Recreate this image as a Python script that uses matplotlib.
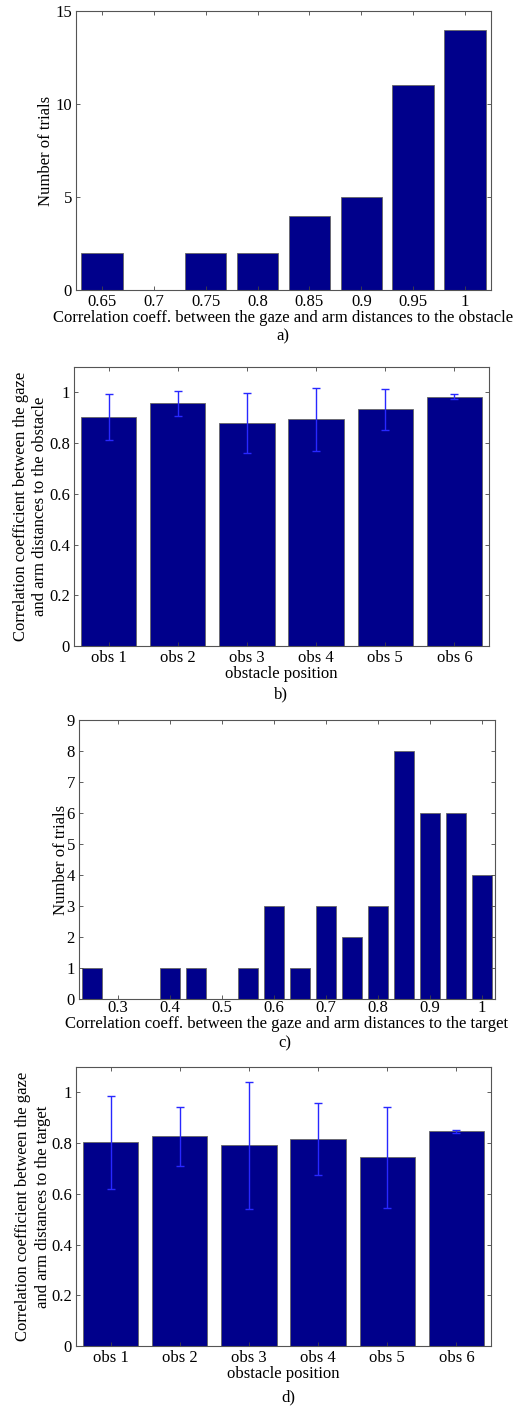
import matplotlib
matplotlib.use("Agg")
import matplotlib.pyplot as plt

plt.rcParams['font.family'] = ['Liberation Serif', 'DejaVu Serif']

# a) histogram, gaze vs arm distances to the obstacle
bins_a = [0.65, 0.7, 0.75, 0.8, 0.85, 0.9, 0.95, 1.0]
counts_a = [2, 0, 2, 2, 4, 5, 11, 14]
ticks_a = ['0.65', '0.7', '0.75', '0.8', '0.85', '0.9', '0.95', '1']

# b) mean correlation per obstacle position (obstacle)
obs_labels = ['obs 1', 'obs 2', 'obs 3', 'obs 4', 'obs 5', 'obs 6']
mean_b = [0.904, 0.957, 0.880, 0.894, 0.933, 0.983]
err_b = [0.091, 0.050, 0.118, 0.124, 0.082, 0.011]

# c) histogram, gaze vs arm distances to the target
bins_c = [0.25, 0.3, 0.35, 0.4, 0.45, 0.5, 0.55, 0.6, 0.65, 0.7, 0.75, 0.8,
          0.85, 0.9, 0.95, 1.0]
counts_c = [1, 0, 0, 1, 1, 0, 1, 3, 1, 3, 2, 3, 8, 6, 6, 4]
ticks_c = [0.3, 0.4, 0.5, 0.6, 0.7, 0.8, 0.9, 1.0]
ticklabels_c = ['0.3', '0.4', '0.5', '0.6', '0.7', '0.8', '0.9', '1']

# d) mean correlation per obstacle position (target)
mean_d = [0.803, 0.827, 0.791, 0.817, 0.744, 0.846]
err_d = [0.183, 0.116, 0.249, 0.142, 0.199, 0.006]

W, H = 531, 1406
bar_col = '#00008B'
edge_col = '#666666'
err_col = '#2828FF'
fs = 12

fig = plt.figure(figsize=(W / 100, H / 100), dpi=100)


def make_ax(left, right, top, bottom):
    ax = fig.add_axes([left / W, (H - bottom) / H, (right - left) / W, (bottom - top) / H])
    ax.tick_params(direction='in', top=True, right=True, labelsize=fs,
                   length=3, width=0.6, color='#444444', pad=3)
    for s in ax.spines.values():
        s.set_color('#555555')
        s.set_linewidth(0.8)
    return ax


# panel a
ax = make_ax(76, 491, 11, 290)
ax.bar(bins_a, counts_a, width=0.04, color=bar_col, edgecolor=edge_col, linewidth=0.6)
ax.set_xlim(0.625, 1.025)
ax.set_ylim(0, 15)
ax.set_xticks(bins_a)
ax.set_xticklabels(ticks_a)
ax.set_yticks([0, 5, 10, 15])
ax.set_ylabel('Number of trials', fontsize=fs, labelpad=1)
ax.set_xlabel('Correlation coeff. between the gaze and arm distances to the obstacle',
              fontsize=fs, labelpad=0)
fig.text(283 / W, 1 - 336 / H, 'a)', ha='center', va='center', fontsize=fs)

# panel b
ax = make_ax(74, 489, 367, 646)
xb = list(range(1, len(obs_labels) + 1))
ax.bar(xb, mean_b, width=0.8, color=bar_col, edgecolor=edge_col, linewidth=0.6)
ax.errorbar(xb, mean_b, yerr=err_b, fmt='none', ecolor=err_col, elinewidth=1,
            capsize=3, capthick=1)
ax.set_xlim(0.5, 6.5)
ax.set_ylim(0, 1.1)
ax.set_xticks(xb)
ax.set_xticklabels(obs_labels)
ax.set_yticks([0, 0.2, 0.4, 0.6, 0.8, 1.0])
ax.set_yticklabels(['0', '0.2', '0.4', '0.6', '0.8', '1'])
ax.set_ylabel('Correlation coefficient between the gaze\nand arm distances to the obstacle',
              fontsize=fs, labelpad=0.5, linespacing=1.3)
ax.set_xlabel('obstacle position', fontsize=fs, labelpad=0)
fig.text(281 / W, 1 - 694 / H, 'b)', ha='center', va='center', fontsize=fs)

# panel c
ax = make_ax(79, 495, 720, 999)
ax.bar(bins_c, counts_c, width=0.04, color=bar_col, edgecolor=edge_col, linewidth=0.6)
ax.set_xlim(0.225, 1.025)
ax.set_ylim(0, 9)
ax.set_xticks(ticks_c)
ax.set_xticklabels(ticklabels_c)
ax.set_yticks(range(0, 10))
ax.tick_params(axis='x', pad=1)
ax.set_ylabel('Number of trials', fontsize=fs, labelpad=-2)
ax.set_xlabel('Correlation coeff. between the gaze and arm distances to the target',
              fontsize=fs, labelpad=0)
fig.text(285 / W, 1 - 1043 / H, 'c)', ha='center', va='center', fontsize=fs)

# panel d
ax = make_ax(76, 491, 1067, 1346)
ax.bar(xb, mean_d, width=0.8, color=bar_col, edgecolor=edge_col, linewidth=0.6)
ax.errorbar(xb, mean_d, yerr=err_d, fmt='none', ecolor=err_col, elinewidth=1,
            capsize=3, capthick=1)
ax.set_xlim(0.5, 6.5)
ax.set_ylim(0, 1.1)
ax.set_xticks(xb)
ax.set_xticklabels(obs_labels)
ax.set_yticks([0, 0.2, 0.4, 0.6, 0.8, 1.0])
ax.set_yticklabels(['0', '0.2', '0.4', '0.6', '0.8', '1'])
ax.set_ylabel('Correlation coefficient between the gaze\nand arm distances to the target',
              fontsize=fs, labelpad=0, linespacing=1.3)
ax.set_xlabel('obstacle position', fontsize=fs, labelpad=0)
fig.text(288 / W, 1 - 1397 / H, 'd)', ha='center', va='center', fontsize=fs)

fig.savefig('out.png', dpi=100)
